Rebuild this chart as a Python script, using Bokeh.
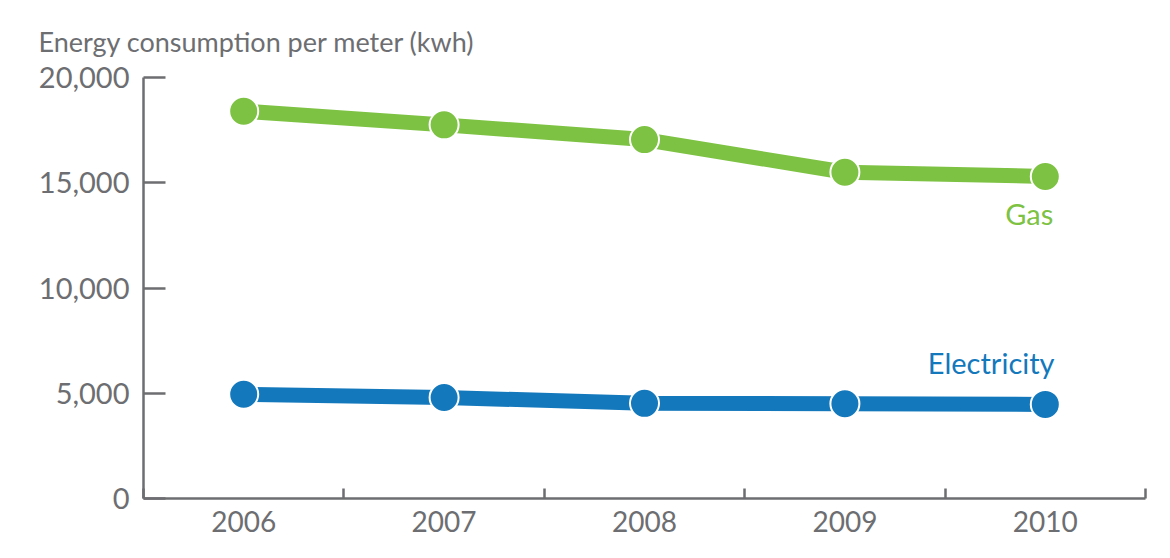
from bokeh.plotting import figure
from bokeh.models import FixedTicker, NumeralTickFormatter, Range1d
from bokeh.core.properties import value
from bokeh.embed import file_html
from bokeh.resources import INLINE

years = [2006, 2007, 2008, 2009, 2010]
gas = [18400, 17750, 17050, 15500, 15300]
electricity = [4950, 4800, 4520, 4500, 4470]
y_ticks = [0, 5000, 10000, 15000, 20000]
title_text = "Energy consumption per meter (kwh)"
series_names = ["Gas", "Electricity"]
label_x = [2009.92, 2009.73]
label_y = [13550, 6450]

GREEN = "#7DC242"
BLUE = "#1378BC"
GRAY = "#6D6E71"
FONT = "Lato"

p = figure(width=1162, height=550, output_backend="svg", toolbar_location=None,
           x_range=Range1d(2005.5, 2010.5), y_range=Range1d(0, 20000),
           min_border_left=143, min_border_right=17, min_border_top=77, min_border_bottom=52,
           title=title_text)
p.outline_line_color = None
p.grid.visible = False
p.background_fill_color = "white"

p.title.align = "left"
p.title.vertical_align = "top"
p.title.offset = -105
p.title.standoff = 35
p.title.text_font = FONT
p.title.text_font_size = "27px"
p.title.text_font_style = "normal"
p.title.text_color = GRAY

xa = p.xaxis[0]
xa.ticker = FixedTicker(ticks=years, minor_ticks=[y - 0.5 for y in years] + [years[-1] + 0.5])
xa.major_tick_in = 0
xa.major_tick_out = 0
xa.minor_tick_in = 10
xa.minor_tick_out = 0
xa.minor_tick_line_color = GRAY
xa.minor_tick_line_width = 2.5
xa.axis_line_color = GRAY
xa.axis_line_width = 2.5
xa.major_label_text_font = FONT
xa.major_label_text_font_size = "28px"
xa.major_label_text_color = GRAY
xa.major_label_standoff = 12

ya = p.yaxis[0]
ya.ticker = FixedTicker(ticks=y_ticks)
ya.formatter = NumeralTickFormatter(format="0,0")
ya.major_tick_in = 22
ya.major_tick_out = 0
ya.minor_tick_line_color = None
ya.major_tick_line_color = GRAY
ya.major_tick_line_width = 2.5
ya.axis_line_color = GRAY
ya.axis_line_width = 2.5
ya.major_label_text_font = FONT
ya.major_label_text_font_size = "29px"
ya.major_label_text_color = GRAY
ya.major_label_standoff = 14

for vals, col in [(gas, GREEN), (electricity, BLUE)]:
    p.line(years, vals, line_color=col, line_width=15, line_join="round")
    p.scatter(years, vals, size=29, fill_color=col, line_color="white", line_width=2)

for name, col, lx, ly in zip(series_names, [GREEN, BLUE], label_x, label_y):
    p.text([lx], [ly], text=[name], text_color=col, text_font=value(FONT),
           text_font_size="29px", text_align="center", text_baseline="middle")

open("out.html", "w").write(file_html(p, INLINE))
